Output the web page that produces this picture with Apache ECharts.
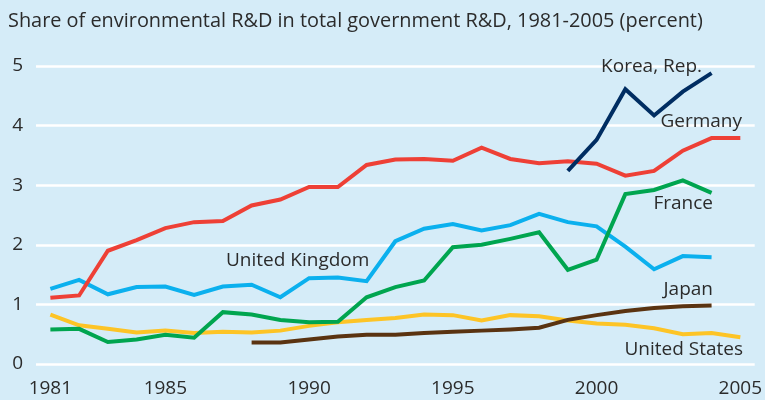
<!DOCTYPE html>
<html>
<head>
<meta charset="utf-8">
<script src="https://cdn.jsdelivr.net/npm/echarts@6/dist/echarts.min.js"></script>
<style>
  html, body { margin: 0; padding: 0; background: #d5ecf8; }
  #main { width: 765px; height: 400px; }
</style>
</head>
<body>
<div id="main"></div>
<script>
// years on the x axis
var years = [];
for (var y = 1981; y <= 2005; y++) years.push(String(y));
var shownYears = ['1981', '1985', '1990', '1995', '2000', '2005'];

// values (percent), null = no data
var germany = [1.11, 1.15, 1.90, 2.08, 2.28, 2.38, 2.40, 2.66, 2.76, 2.97, 2.97, 3.34, 3.43,
  3.44, 3.41, 3.63, 3.44, 3.37, 3.40, 3.36, 3.16, 3.24, 3.58, 3.79, 3.79];
var korea = [null, null, null, null, null, null, null, null, null, null, null, null, null,
  null, null, null, null, null, 3.24, 3.76, 4.61, 4.17, 4.57, 4.88, null];
var france = [0.58, 0.59, 0.37, 0.41, 0.49, 0.44, 0.87, 0.83, 0.74, 0.70, 0.71, 1.12, 1.29,
  1.40, 1.96, 2.00, 2.10, 2.21, 1.58, 1.75, 2.85, 2.92, 3.08, 2.87, null];
var uk = [1.26, 1.41, 1.17, 1.29, 1.30, 1.16, 1.30, 1.33, 1.12, 1.44, 1.45, 1.39, 2.06,
  2.27, 2.35, 2.24, 2.33, 2.52, 2.38, 2.31, 1.97, 1.59, 1.81, 1.79, null];
var japan = [null, null, null, null, null, null, null, 0.36, 0.36, 0.41, 0.46, 0.49, 0.49,
  0.52, 0.54, 0.56, 0.58, 0.61, 0.74, 0.82, 0.89, 0.94, 0.97, 0.98, null];
var us = [0.83, 0.65, 0.59, 0.53, 0.56, 0.52, 0.54, 0.53, 0.56, 0.64, 0.70, 0.74, 0.77,
  0.83, 0.82, 0.73, 0.82, 0.80, 0.73, 0.68, 0.66, 0.60, 0.50, 0.52, 0.45];

var chart = echarts.init(document.getElementById('main'));
var font = '"Open Sans", sans-serif';
var txt = '#2b2b2b';

function line(name, data, color) {
  return {
    name: name,
    type: 'line',
    data: data,
    symbol: 'none',
    connectNulls: false,
    lineStyle: { color: color, width: 4, join: 'miter' },
    itemStyle: { color: color },
    z: 3
  };
}

function tag(text, x, y, align) {
  return {
    type: 'text',
    x: x, y: y,
    z: 100,
    style: {
      text: text, fill: txt, font: '19px ' + font,
      textAlign: align || 'right', textVerticalAlign: 'middle'
    }
  };
}

var option = {
  backgroundColor: '#d5ecf8',
  animation: false,
  textStyle: { fontFamily: font },
  grid: { left: 36, right: 8, top: 66, bottom: 36 },
  xAxis: {
    type: 'category',
    data: years,
    boundaryGap: true,
    axisLine: { show: false },
    axisTick: { show: false },
    axisLabel: {
      color: txt, fontSize: 19, fontFamily: font, margin: 15,
      interval: function (i, v) { return shownYears.indexOf(v) >= 0; }
    }
  },
  yAxis: {
    type: 'value',
    min: 0, max: 5, interval: 1,
    axisLine: { show: false },
    axisTick: { show: false },
    axisLabel: { color: txt, fontSize: 19, fontFamily: font, margin: 13 },
    splitLine: { lineStyle: { color: '#ffffff', width: 2.5 } }
  },
  graphic: [
    {
      type: 'text', x: 8, y: 21, z: 100,
      style: {
        text: 'Share of environmental R&D in total government R&D, 1981-2005 (percent)',
        fill: txt, font: '19.9px ' + font, textVerticalAlign: 'middle'
      }
    },
    tag('Korea, Rep.', 702, 67),
    tag('Germany', 742, 122),
    tag('France', 713, 204),
    tag('United Kingdom', 226, 261, 'left'),
    tag('Japan', 713, 290),
    tag('United States', 743, 350)
  ],
  series: [
    line('United States', us, '#fdc426'),
    line('Japan', japan, '#5a3311'),
    line('United Kingdom', uk, '#0bb0ee'),
    line('France', france, '#00a54f'),
    line('Germany', germany, '#ee4036'),
    line('Korea, Rep.', korea, '#002d62')
  ]
};
chart.setOption(option);
</script>
</body>
</html>
